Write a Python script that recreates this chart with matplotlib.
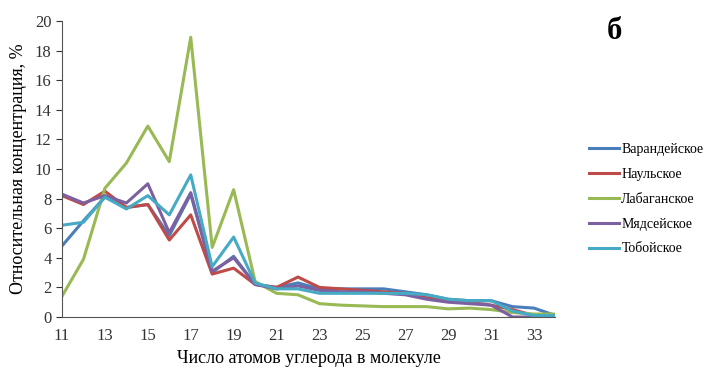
import matplotlib
matplotlib.use("Agg")
import matplotlib.pyplot as plt

carbon = list(range(11, 35))

varandey = [4.8, 6.5, 8.1, 7.4, 7.6, 5.5, 8.3, 3.0, 4.1, 2.2, 2.0, 2.3, 1.9, 1.9, 1.9, 1.9, 1.7, 1.5, 1.2, 1.1, 1.1, 0.7, 0.6, 0.1]
naul = [8.2, 7.6, 8.5, 7.4, 7.6, 5.2, 6.9, 2.9, 3.3, 2.2, 2.0, 2.7, 2.0, 1.9, 1.8, 1.7, 1.6, 1.3, 1.1, 1.0, 0.8, 0.5, 0.1, 0.1]
labagan = [1.4, 3.9, 8.7, 10.4, 12.9, 10.5, 18.9, 4.7, 8.6, 2.4, 1.6, 1.5, 0.9, 0.8, 0.75, 0.7, 0.7, 0.7, 0.55, 0.6, 0.5, 0.3, 0.2, 0.2]
myadsey = [8.3, 7.7, 8.2, 7.7, 9.0, 5.7, 8.4, 3.1, 4.0, 2.2, 1.9, 2.1, 1.8, 1.7, 1.7, 1.6, 1.5, 1.2, 1.0, 0.9, 0.8, 0.0, 0.0, 0.0]
toboy = [6.2, 6.4, 8.1, 7.3, 8.2, 6.9, 9.6, 3.4, 5.4, 2.3, 1.9, 1.9, 1.6, 1.6, 1.6, 1.6, 1.6, 1.5, 1.2, 1.1, 1.1, 0.4, 0.1, 0.1]

names = ["Варандейское", "Наульское", "Лабаганское", "Мядсейское", "Тобойское"]
series = [varandey, naul, labagan, myadsey, toboy]
colors = ["#4a7ebb", "#be4b48", "#98b954", "#7d60a0", "#46aac5"]

plt.rcParams["font.family"] = ["Liberation Serif", "DejaVu Serif"]

fig = plt.figure(figsize=(7.07, 3.68), dpi=100)
ax = fig.add_axes([0.0877, 0.1386, 0.698, 0.8044])

for vals, name, c in zip(series, names, colors):
    ax.plot(carbon, vals, color=c, lw=2.2, label=name)

ax.set_xlim(11, 34)
ax.set_ylim(0, 20)
ax.set_xticks(range(11, 34, 2))
ax.set_yticks(range(0, 21, 2))
ax.tick_params(labelsize=12, colors="#333333", length=4)
ax.tick_params(axis="x", length=0, pad=8)
for s in ["top", "right"]:
    ax.spines[s].set_visible(False)
for s in ["left", "bottom"]:
    ax.spines[s].set_color("#555555")

ax.set_xlabel("Число атомов углерода в молекуле", fontsize=13, labelpad=4)
ax.set_ylabel("Относительная концентрация, %", fontsize=13, labelpad=6)

fig.legend(loc="upper left", bbox_to_anchor=(0.815, 0.645), frameon=False,
           fontsize=10, handlelength=2.2, handletextpad=0.15, labelspacing=0.85)

fig.text(0.858, 0.915, "б", fontsize=22, fontweight="bold", ha="left", va="center")

fig.savefig("out.png", dpi=100)
